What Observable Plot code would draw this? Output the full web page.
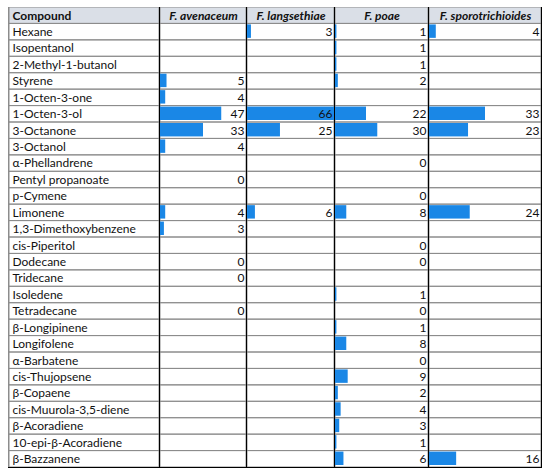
<!DOCTYPE html>
<html>
<head>
<meta charset="utf-8">
<script src="https://cdn.jsdelivr.net/npm/d3@7"></script>
<script src="https://cdn.jsdelivr.net/npm/@observablehq/plot@0.6"></script>
<style>
  body { margin: 0; background: #fff; }
  #table { position: absolute; left: 8px; top: 7px; display: flex; border-bottom: 1px solid #000; }
  #table svg { flex: none; max-width: none !important; border-right: 1.5px solid #000; }
  #table svg:first-child { border-left: 1px solid #8c8c8c; border-right-width: 1.5px; }
</style>
</head>
<body>
<div id="table"></div>
<script>
const compounds = ["Hexane", "Isopentanol", "2-Methyl-1-butanol", "Styrene", "1-Octen-3-one", "1-Octen-3-ol",
  "3-Octanone", "3-Octanol", "α-Phellandrene", "Pentyl propanoate", "p-Cymene", "Limonene",
  "1,3-Dimethoxybenzene", "cis-Piperitol", "Dodecane", "Tridecane", "Isoledene", "Tetradecane",
  "β-Longipinene", "Longifolene", "α-Barbatene", "cis-Thujopsene", "β-Copaene", "cis-Muurola-3,5-diene",
  "β-Acoradiene", "10-epi-β-Acoradiene", "β-Bazzanene"]

const species = ["F. avenaceum", "F. langsethiae", "F. poae", "F. sporotrichioides"]

// blank cells are null
const avenaceum = [null, null, null, 5, 4, 47, 33, 4, null, 0, null, 4, 3, null, 0, 0, null, 0,
  null, null, null, null, null, null, null, null, null]
const langsethiae = [3, null, null, null, null, 66, 25, null, null, null, null, 6, null, null, null, null, null, null,
  null, null, null, null, null, null, null, null, null]
const poae = [1, 1, 1, 2, null, 22, 30, null, 0, null, 0, 8, null, 0, 0, null, 1, 0,
  1, 8, 0, 9, 2, 4, 3, 1, 6]
const sporotrichioides = [4, null, null, null, null, 33, 23, null, null, null, null, 24, null, null, null, null, null, null,
  null, null, null, null, null, null, null, null, 16]

const series = [avenaceum, langsethiae, poae, sporotrichioides]
const colWidths = [150, 86, 87, 93, 112]

const HEADER = "header"
const rowsY = [HEADER, ...compounds]
const maxVal = 66

const base = (w, marks) => Plot.plot({
    width: w,
    height: 460,
    margin: 0,
    x: { domain: [0, maxVal], axis: null },
    y: { domain: rowsY, axis: null, padding: 0, round: false },
    style: { fontFamily: "Lato, sans-serif", fontSize: "12px", color: "#111", background: "white" },
    marks: [
        Plot.cell([HEADER], { y: d => d, fill: "#dadfe7" }),
        Plot.cell(rowsY, { y: d => d, fill: "none", stroke: "#8c8c8c" }),
        ...marks
    ]
})

// Colonna dei composti
let first = base(colWidths[0], [
    Plot.text([HEADER], { y: d => d, text: () => "Compound", frameAnchor: "left", textAnchor: "start", dx: 3, fontWeight: "bold" }),
    Plot.text(compounds, { y: d => d, text: d => d, frameAnchor: "left", textAnchor: "start", dx: 3 }),
])
d3.select('#table').append(() => first)

species.forEach((name, i) => {
    let data = compounds.map((c, j) => ({ compound: c, value: series[i][j] })).filter(d => d.value != null)
    let p = base(colWidths[i + 1], [
        Plot.barX(data, { x1: 0, x2: "value", y: "compound", fill: "#1a87e6", insetTop: 1, insetBottom: 2 }),
        Plot.text([HEADER], { y: d => d, text: () => name, frameAnchor: "middle", fontWeight: "bold", fontStyle: "italic" }),
        Plot.text(data, { y: "compound", text: "value", frameAnchor: "right", textAnchor: "end", dx: -2 }),
    ])
    d3.select('#table').append(() => p)
})
</script>
</body>
</html>
